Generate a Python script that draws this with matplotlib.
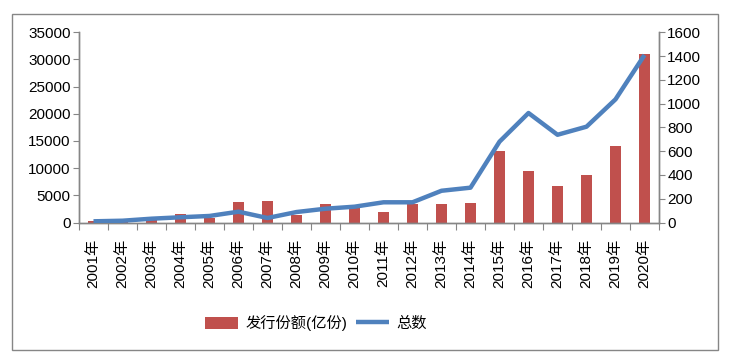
import matplotlib
matplotlib.use("Agg")
import matplotlib.pyplot as plt
from matplotlib.patches import Rectangle
import numpy as np

plt.rcParams['font.family'] = ['Liberation Sans', 'Noto Sans CJK SC', 'DejaVu Sans']

years = [f"{y}年" for y in range(2001, 2021)]
issue_share = [300, 150, 800, 1600, 900, 3750, 3950, 1400, 3400, 2900, 1950, 3400,
               3400, 3550, 13100, 9450, 6700, 8700, 14000, 31000]
total_count = [10, 15, 32, 44, 55, 91, 38, 88, 116, 133, 170, 170,
               267, 293, 680, 921, 738, 806, 1036, 1409]
left_ticks = list(range(0, 35001, 5000))
right_ticks = list(range(0, 1601, 200))

bar_color = '#C0504D'
line_color = '#4F81BD'
spine_color = '#868686'
fs = 11

fig = plt.figure(figsize=(7.29, 3.6), dpi=100)
fig.patches.append(Rectangle((12/729, 1-350/360), (718-12)/729, (350-13.5)/360,
                             transform=fig.transFigure, fill=False,
                             edgecolor=spine_color, linewidth=1.0))

ax = fig.add_axes([79/729, 1-222.5/360, 580/729, 190.2/360])
x = np.arange(len(years))
bars = ax.bar(x, issue_share, width=0.4, color=bar_color, label='发行份额(亿份)', zorder=2)
ax.set_xlim(-0.5, len(years)-0.5)
ax.set_ylim(0, 35000)
ax.set_yticks(left_ticks)
ax.set_yticklabels([str(t) for t in left_ticks], fontsize=fs)
ax.set_xticks(np.arange(-0.5, len(years), 1.0))
ax.set_xticklabels([])
ax.set_xticks(x, minor=True)
ax.set_xticklabels(years, minor=True, rotation=90, fontsize=fs)
ax.tick_params(axis='x', which='minor', length=0, pad=12)
ax.tick_params(axis='x', which='major', length=5, color=spine_color)
ax.tick_params(axis='y', length=4, color=spine_color, pad=2)

ax2 = ax.twinx()
line, = ax2.plot(x, total_count, color=line_color, linewidth=3.2, label='总数',
                 solid_joinstyle='round', solid_capstyle='butt', zorder=3)
ax2.set_ylim(0, 1600)
ax2.set_yticks(right_ticks)
ax2.set_yticklabels([str(t) for t in right_ticks], fontsize=fs)
ax2.tick_params(axis='y', length=4, color=spine_color, pad=2)

for a in (ax, ax2):
    a.spines['top'].set_visible(False)
    for s in ('left', 'right', 'bottom'):
        a.spines[s].set_color(spine_color)
        a.spines[s].set_linewidth(1.0)
    a.patch.set_visible(False)

fig.legend([bars, line], ['发行份额(亿份)', '总数'], loc='center',
           bbox_to_anchor=(316/729, 1-323/360), ncol=2, frameon=False,
           fontsize=fs, handlelength=2.2, handleheight=0.8,
           columnspacing=0.5, handletextpad=0.5)

fig.savefig('out.png', dpi=100)
